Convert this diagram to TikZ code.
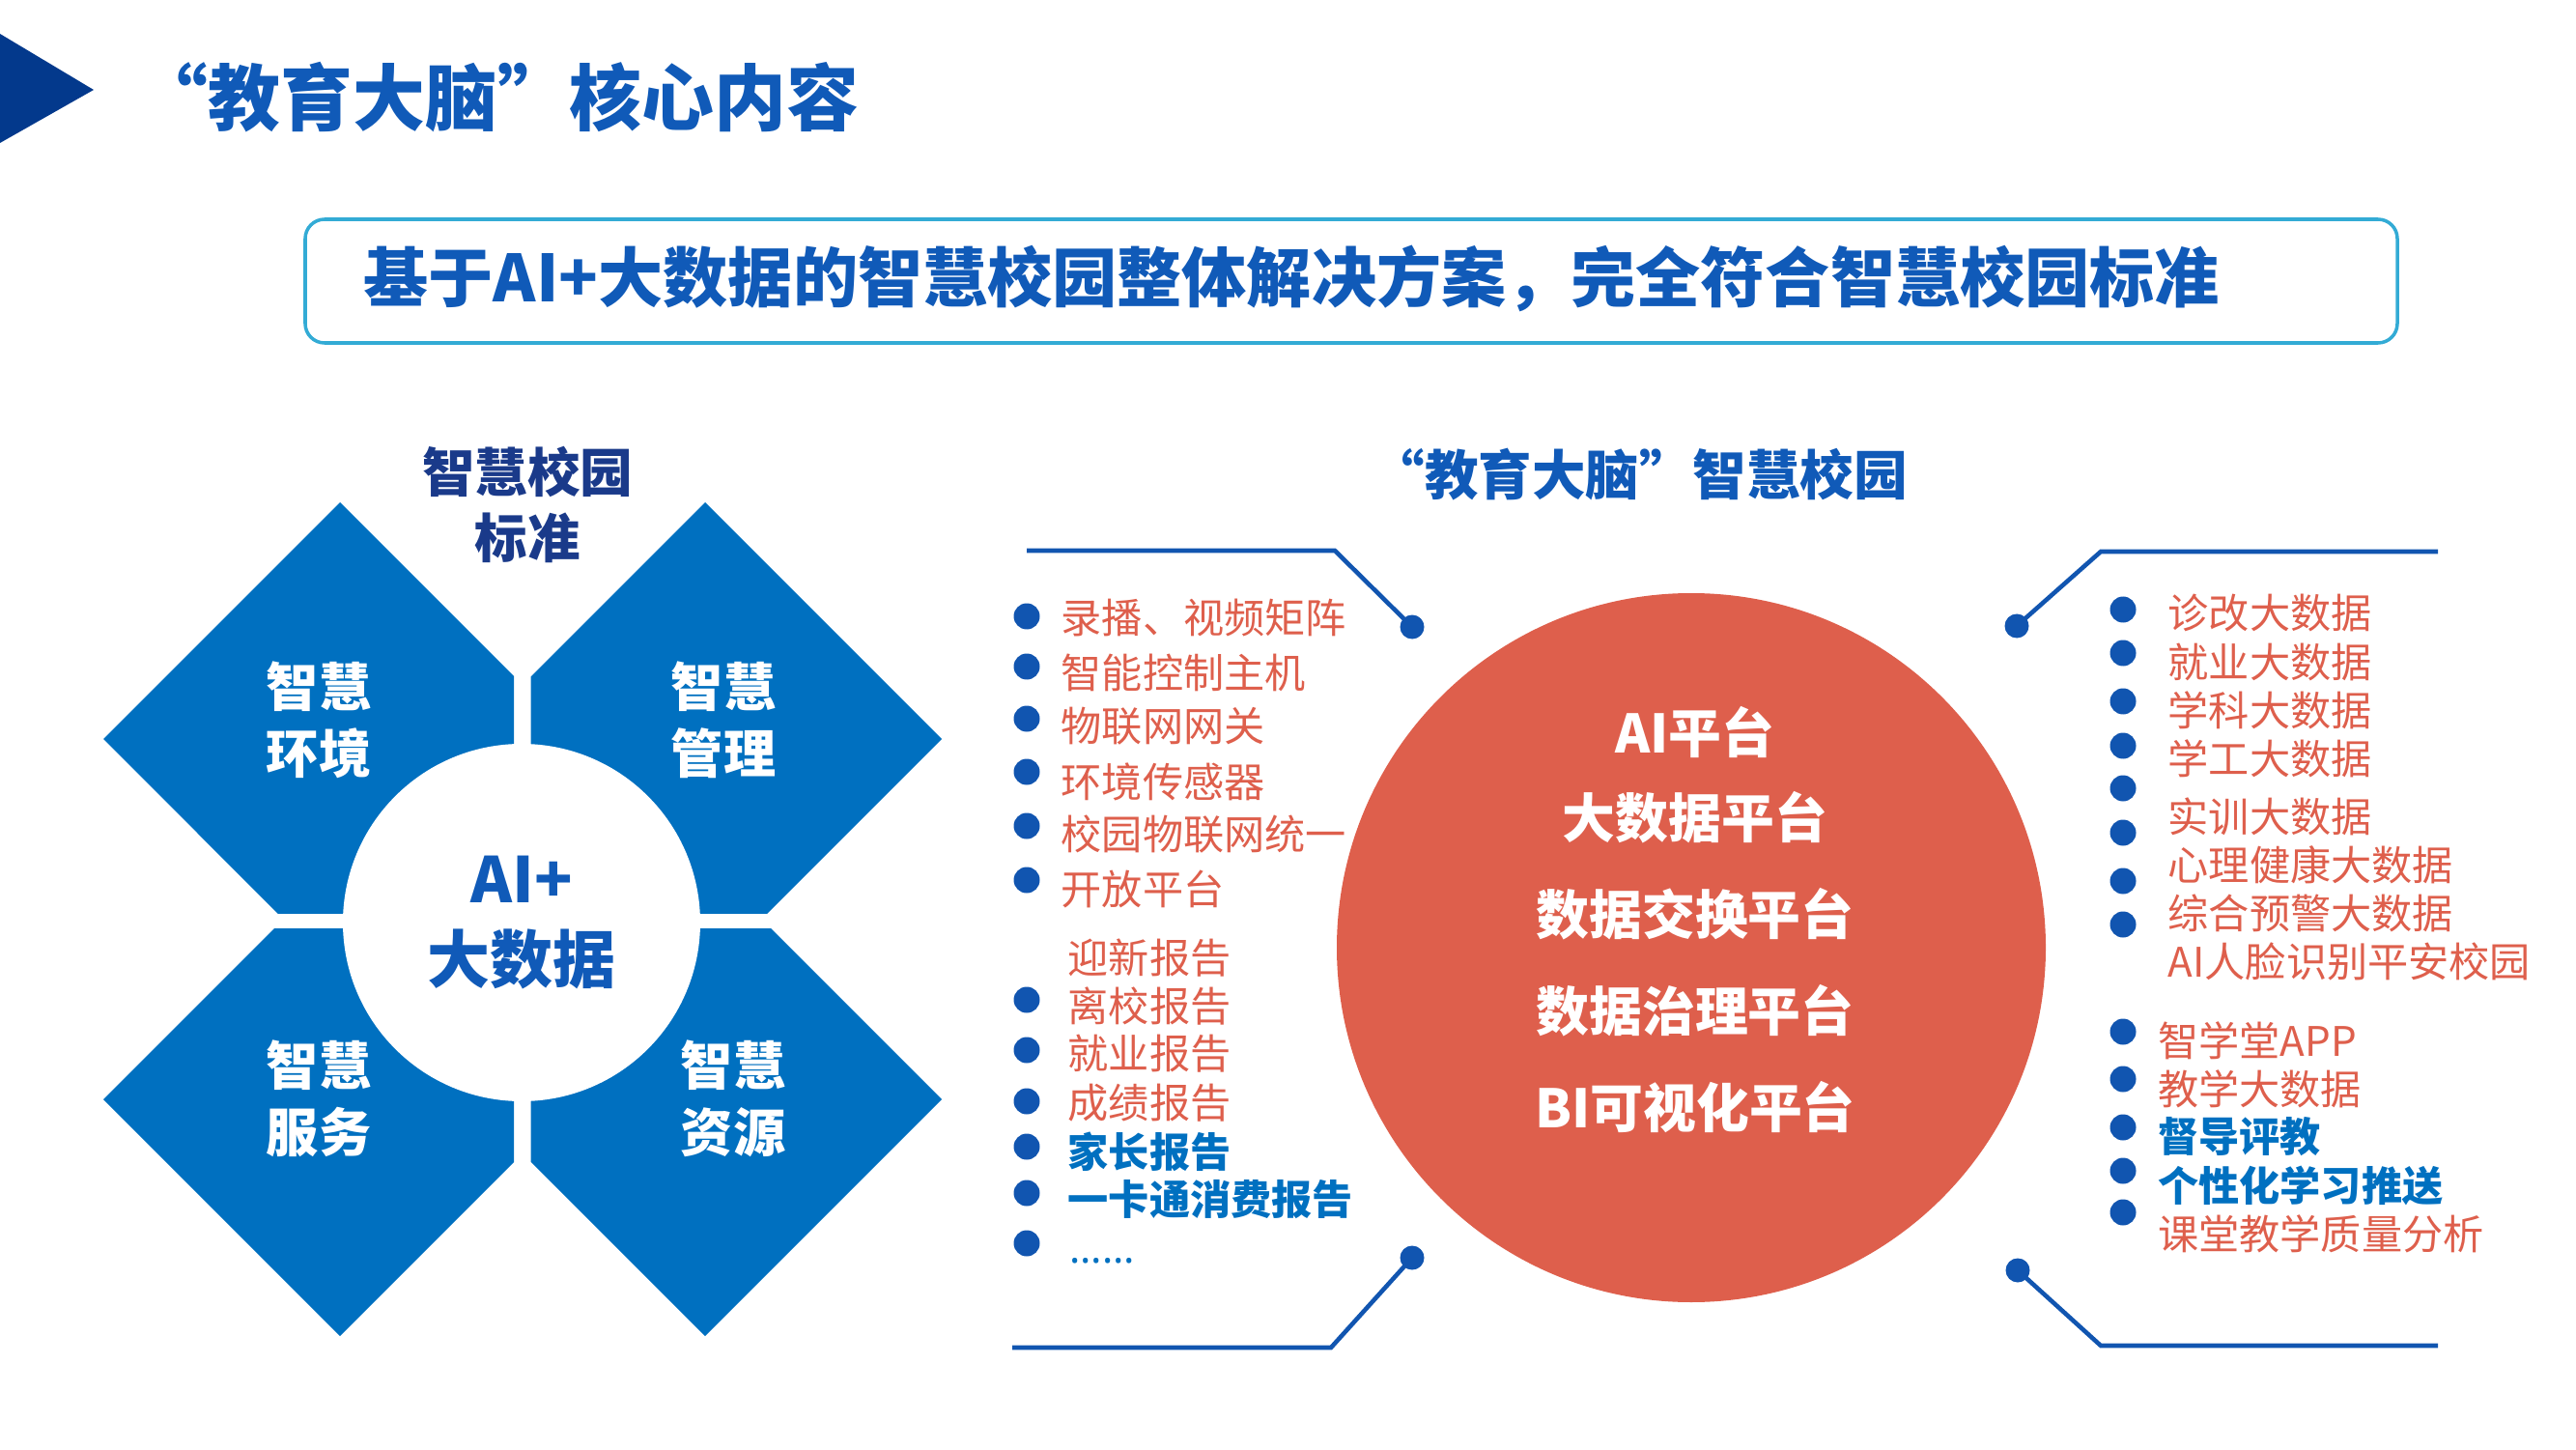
\documentclass[tikz,border=0pt]{standalone}
\usepackage{fontspec}
\setmainfont{Noto Sans CJK SC}
\newfontfamily\latinfont{Noto Sans}
\usetikzlibrary{positioning}
\definecolor{mlnavy}{RGB}{3,57,140}
\definecolor{mlblue}{RGB}{16,90,184}
\definecolor{stdnavy}{RGB}{26,58,138}
\definecolor{tileblue}{RGB}{0,112,192}
\definecolor{hubred}{RGB}{222,95,76}
\definecolor{dotblue}{RGB}{17,85,176}
\definecolor{bannercyan}{RGB}{51,171,213}

\begin{document}
\begin{tikzpicture}[
  tiletext/.style={align=center,text=white,font=\fontsize{15.4}{19.6}\selectfont\bfseries},
  platform/.style={text=white,inner sep=0pt,font=\fontsize{15.6}{18}\selectfont\bfseries},
  bullet/.style={circle,fill=dotblue,minimum size=0.27cm,inner sep=0pt},
  knob/.style={circle,fill=dotblue,minimum size=0.25cm,inner sep=0pt},
  wire/.style={draw=dotblue,line width=1.3pt},
  item/.style={anchor=west,inner sep=0pt,text=hubred,font=\fontsize{12}{14}\selectfont},
  hotitem/.style={item,text=tileblue,font=\fontsize{12}{14}\selectfont\bfseries}]
  \useasboundingbox (0,0) rectangle (26.67,15);
  % Header
  \fill[mlnavy] (0,14.65) -- (0.97,14.07) -- (0,13.52) -- cycle;
  \node[anchor=west,inner sep=0pt,text=mlblue,font=\fontsize{21.3}{24}\selectfont\bfseries] (title) at (1.40,13.99) {“教育大脑”核心内容};
  % Banner
  \draw[bannercyan,line width=1pt,rounded corners=0.2cm] (3.16,12.73) rectangle (24.82,11.45);
  \node[anchor=west,inner sep=0pt,text=mlblue,font=\fontsize{19.1}{22}\selectfont\bfseries] (banner) at (3.76,12.115) {基于AI+大数据的智慧校园整体解决方案，完全符合智慧校园标准};
  % Left: standard tiles
  \node[align=center,text=stdnavy,font=\fontsize{15.5}{19.6}\selectfont\bfseries] (std) at (5.46,9.775) {智慧校园\\标准};
  \begin{scope}
    \clip (0,5.55) rectangle (5.32,15);
    \fill[tileblue] (1.07,7.35) -- (3.52,9.80) -- (5.97,7.35) -- (3.52,4.90) -- cycle;
  \end{scope}
  \begin{scope}
    \clip (5.495,5.55) rectangle (12,15);
    \fill[tileblue] (4.85,7.35) -- (7.30,9.80) -- (9.75,7.35) -- (7.30,4.90) -- cycle;
  \end{scope}
  \begin{scope}
    \clip (0,0) rectangle (5.32,5.39);
    \fill[tileblue] (1.07,3.62) -- (3.52,6.07) -- (5.97,3.62) -- (3.52,1.17) -- cycle;
  \end{scope}
  \begin{scope}
    \clip (5.495,0) rectangle (12,5.39);
    \fill[tileblue] (4.85,3.62) -- (7.30,6.07) -- (9.75,3.62) -- (7.30,1.17) -- cycle;
  \end{scope}
  \node[circle,fill=white,minimum size=3.7cm,inner sep=0pt,align=center,text=mlblue,font=\fontsize{18.5}{23.6}\selectfont\bfseries] (core) at (5.40,5.45) {AI+\\大数据};
  \node[tiletext] (env) at (3.30,7.55) {智慧\\环境};
  \node[tiletext] (mgmt) at (7.49,7.55) {智慧\\管理};
  \node[tiletext] (serv) at (3.30,3.63) {智慧\\服务};
  \node[tiletext] (res) at (7.59,3.63) {智慧\\资源};
  % Middle: hub
  \node[anchor=west,inner sep=0pt,text=mlblue,font=\fontsize{15.8}{18}\selectfont\bfseries] (brain) at (14.19,10.09) {“教育大脑”智慧校园};
  \node[circle,fill=hubred,minimum size=7.34cm,inner sep=0pt] (hub) at (17.51,5.19) {};
  \node[platform] (aiplat) at (17.55,7.425) {AI平台};
  \node[platform] (bigplat) at (17.55,6.54) {大数据平台};
  \node[platform] (xchplat) at (17.55,5.535) {数据交换平台};
  \node[platform] (govplat) at (17.55,4.54) {数据治理平台};
  \node[platform] (biplat) at (17.55,3.54) {BI可视化平台};
  % Wires
  \node[knob] (knobTL) at (14.62,8.51) {};
  \node[knob] (knobBL) at (14.62,1.98) {};
  \node[knob] (knobTR) at (20.88,8.52) {};
  \node[knob] (knobBR) at (20.89,1.85) {};
  \coordinate (bendTL) at (13.82,9.30);
  \coordinate (endTL) at (10.63,9.30);
  \coordinate (bendBL) at (13.78,1.05);
  \coordinate (endBL) at (10.48,1.05);
  \coordinate (bendTR) at (21.75,9.29);
  \coordinate (endTR) at (25.24,9.29);
  \coordinate (bendBR) at (21.75,1.07);
  \coordinate (endBR) at (25.24,1.07);
  \draw[wire] (knobTL.center) -- (bendTL) -- (endTL);
  \draw[wire] (knobBL.center) -- (bendBL) -- (endBL);
  \draw[wire] (knobTR.center) -- (bendTR) -- (endTR);
  \draw[wire] (knobBR.center) -- (bendBR) -- (endBR);
  % Left list
  \node[bullet] (lb1) at (10.63,8.62) {};
  \node[bullet] (lb2) at (10.63,8.10) {};
  \node[bullet] (lb3) at (10.63,7.56) {};
  \node[bullet] (lb4) at (10.63,7.01) {};
  \node[bullet] (lb5) at (10.63,6.45) {};
  \node[bullet] (lb6) at (10.63,5.89) {};
  \node[bullet] (lb7) at (10.63,4.65) {};
  \node[bullet] (lb8) at (10.63,4.13) {};
  \node[bullet] (lb9) at (10.63,3.60) {};
  \node[bullet] (lb10) at (10.63,3.13) {};
  \node[bullet] (lb11) at (10.63,2.65) {};
  \node[bullet] (lb12) at (10.63,2.13) {};
  \node[item] (li1) at (10.98,8.60) {录播、视频矩阵};
  \node[item] (li2) at (10.98,8.04) {智能控制主机};
  \node[item] (li3) at (10.98,7.48) {物联网网关};
  \node[item] (li4) at (10.98,6.91) {环境传感器};
  \node[item] (li5) at (10.98,6.36) {校园物联网统一};
  \node[item] (li6) at (10.98,5.80) {开放平台};
  \node[item] (li7) at (11.05,5.08) {迎新报告};
  \node[item] (li8) at (11.05,4.58) {离校报告};
  \node[item] (li9) at (11.05,4.09) {就业报告};
  \node[item] (li10) at (11.05,3.58) {成绩报告};
  \node[hotitem] (li11) at (11.05,3.08) {家长报告};
  \node[hotitem] (li12) at (11.05,2.585) {一卡通消费报告};
  \node[item,anchor=base west,text=tileblue,font=\fontsize{12}{14}\selectfont\latinfont] (li13) at (11.07,1.93) {……};
  % Right list
  \node[bullet] (rb1) at (21.98,8.69) {};
  \node[bullet] (rb2) at (21.98,8.24) {};
  \node[bullet] (rb3) at (21.98,7.74) {};
  \node[bullet] (rb4) at (21.98,7.28) {};
  \node[bullet] (rb5) at (21.98,6.84) {};
  \node[bullet] (rb6) at (21.98,6.38) {};
  \node[bullet] (rb7) at (21.98,5.88) {};
  \node[bullet] (rb8) at (21.98,5.43) {};
  \node[bullet] (rb9) at (21.98,4.32) {};
  \node[bullet] (rb10) at (21.98,3.83) {};
  \node[bullet] (rb11) at (21.98,3.33) {};
  \node[bullet] (rb12) at (21.98,2.88) {};
  \node[bullet] (rb13) at (21.98,2.45) {};
  \node[item] (ri1) at (22.44,8.65) {诊改大数据};
  \node[item] (ri2) at (22.44,8.15) {就业大数据};
  \node[item] (ri3) at (22.44,7.65) {学科大数据};
  \node[item] (ri4) at (22.44,7.15) {学工大数据};
  \node[item] (ri5) at (22.44,6.55) {实训大数据};
  \node[item] (ri6) at (22.44,6.05) {心理健康大数据};
  \node[item] (ri7) at (22.44,5.55) {综合预警大数据};
  \node[item] (ri8) at (22.44,5.05) {AI人脸识别平安校园};
  \node[item] (ri9) at (22.335,4.23) {智学堂APP};
  \node[item] (ri10) at (22.335,3.73) {教学大数据};
  \node[hotitem] (ri11) at (22.335,3.23) {督导评教};
  \node[hotitem] (ri12) at (22.335,2.73) {个性化学习推送};
  \node[item] (ri13) at (22.335,2.23) {课堂教学质量分析};
\end{tikzpicture}
\end{document}
